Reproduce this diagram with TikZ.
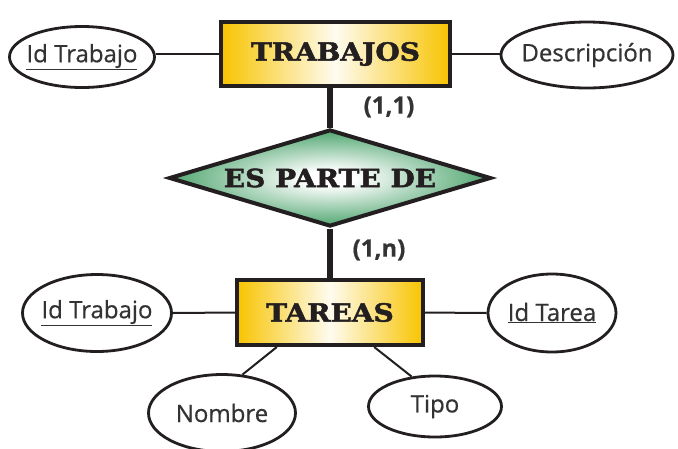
\documentclass[tikz,border=0pt]{standalone}
\usepackage{fontspec}
\setsansfont{Open Sans}[FakeBold=0.6]
\newfontfamily\erfont[FakeStretch=1.12,FakeBold=2]{DejaVu Serif}
\usetikzlibrary{shapes.geometric}
\definecolor{tinta}{HTML}{231F20}
\definecolor{gris}{HTML}{333333}
\definecolor{amarillo}{HTML}{F8C400}
\definecolor{verde}{HTML}{26914E}
\pgfdeclareradialshading{rombo}{\pgfpointorigin}{color(0bp)=(white); color(4bp)=(white); color(30bp)=(verde); color(60bp)=(verde)}
\tikzstyle{entidad}=[rectangle,draw=tinta,line width=4pt,inner sep=0pt,left color=amarillo,right color=amarillo,middle color=white!94!amarillo,text=tinta,font=\erfont\bfseries\fontsize{25}{25}\selectfont]
\tikzstyle{relacion}=[diamond,draw=tinta,line width=4pt,inner sep=0pt,shape aspect=3.3,shading=rombo,text=tinta,font=\erfont\bfseries\fontsize{25}{25}\selectfont]
\tikzstyle{atributo}=[ellipse,draw=tinta,line width=2.8pt,inner sep=-10pt,fill=white,text=gris,font=\sffamily\fontsize{24}{24}\selectfont]
\tikzstyle{card}=[text=gris,font=\sffamily\bfseries\fontsize{24}{24}\selectfont]
\tikzstyle{fina}=[draw=tinta,line width=2pt]
\tikzstyle{gruesa}=[draw=tinta,line width=6pt]

\begin{document}
\begin{tikzpicture}[x=1pt,y=-1pt]
\useasboundingbox (0,0) rectangle (678,448);
\node[entidad,minimum width=229pt,minimum height=64pt] (trabajos) at (335.5,54) {TRABAJOS};
\node[relacion,minimum width=322pt,minimum height=97pt] (espartede) at (330,178) {ES PARTE DE};
\node[entidad,minimum width=186pt,minimum height=65pt] (tareas) at (330,312.5) {TAREAS};
\node[atributo,minimum width=145pt,minimum height=61pt] (idtrabajo1) at (82,57) {\underline{Id Trabajo}};
\node[atributo,minimum width=172pt,minimum height=66pt] (descripcion) at (587,55) {Descripción};
\node[atributo,minimum width=149pt,minimum height=77pt] (idtrabajo2) at (97,313) {\underline{Id Trabajo}};
\node[atributo,minimum width=128pt,minimum height=78pt] (idtarea) at (552,313) {\underline{Id Tarea}};
\node[atributo,minimum width=147pt,minimum height=77pt] (nombre) at (222,413) {Nombre};
\node[atributo,minimum width=133pt,minimum height=61pt] (tipo) at (435,406.5) {Tipo};
\node[card] (card1) at (389,107) {(1,1)};
\node[card] (cardn) at (379,250) {(1,n)};
\draw[fina] (trabajos.west) -- (trabajos.west -| idtrabajo1.east);
\draw[fina] (trabajos.east) -- (trabajos.east -| descripcion.west);
\draw[gruesa] (espartede.north) -- (espartede.north |- trabajos.south);
\draw[gruesa] (espartede.south) -- (tareas.north);
\draw[fina] (tareas.west) -- (idtrabajo2.east);
\draw[fina] (tareas.east) -- (idtarea.west);
\draw[fina] (nombre.62) -- (tareas.213);
\draw[fina] (tipo.128) -- (tareas.322);
\end{tikzpicture}
\end{document}
